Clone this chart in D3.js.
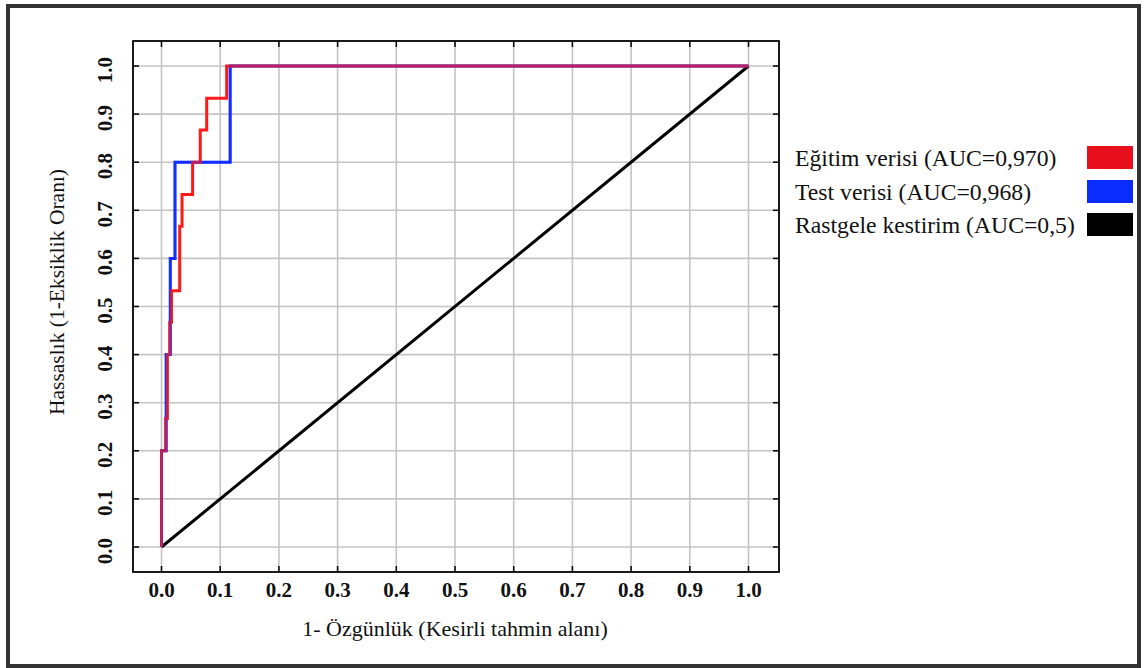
<!DOCTYPE html>
<html>
<head>
<meta charset="utf-8">
<script src="https://cdn.jsdelivr.net/npm/d3@7"></script>
<style>
  html, body { margin: 0; padding: 0; background: #fff; }
  svg { display: block; }
  text { font-family: "Liberation Serif", "Times New Roman", serif; fill: #111; }
</style>
</head>
<body>
<svg id="chart" width="1146" height="668"></svg>
<script>
// ---- data ----
const tickValues = [0, 0.1, 0.2, 0.3, 0.4, 0.5, 0.6, 0.7, 0.8, 0.9, 1.0];
const tickLabels = ["0.0","0.1","0.2","0.3","0.4","0.5","0.6","0.7","0.8","0.9","1.0"];

// Training ROC (FPR, TPR)
const trainFPR = [0, 0, 0.007, 0.007, 0.010, 0.010, 0.014, 0.014, 0.017, 0.017, 0.031, 0.031, 0.035, 0.035, 0.053, 0.053, 0.066, 0.066, 0.077, 0.077, 0.111, 0.111, 1.0];
const trainTPR = [0, 0.2, 0.2, 0.267, 0.267, 0.4, 0.4, 0.467, 0.467, 0.533, 0.533, 0.667, 0.667, 0.733, 0.733, 0.8, 0.8, 0.867, 0.867, 0.933, 0.933, 1.0, 1.0];

// Test ROC
const testFPR = [0, 0, 0.008, 0.008, 0.015, 0.015, 0.023, 0.023, 0.117, 0.117, 1.0];
const testTPR = [0, 0.2, 0.2, 0.4, 0.4, 0.6, 0.6, 0.8, 0.8, 1.0, 1.0];

// Random classifier
const randFPR = [0, 1];
const randTPR = [0, 1];

const legendLabels = ["Eğitim verisi (AUC=0,970)", "Test verisi (AUC=0,968)", "Rastgele kestirim (AUC=0,5)"];
const seriesColors = ["#ff1a1a", "#1430ff", "#000000"];
const legendColors = ["#e8101c", "#0a2cff", "#000000"];

const xTitle = "1- Özgünlük (Kesirli tahmin alanı)";
const yTitle = "Hassaslık (1-Eksiklik Oranı)";

// ---- layout ----
const svg = d3.select("#chart");
const frame = { left: 133, right: 779, top: 41, bottom: 572 };
const x = d3.scaleLinear().domain([0, 1]).range([161.5, 748.5]);
const y = d3.scaleLinear().domain([0, 1]).range([547, 66]);

// outer border
svg.append("rect")
  .attr("x", 8).attr("y", 6).attr("width", 1131).attr("height", 660)
  .attr("fill", "#fff").attr("stroke", "#333").attr("stroke-width", 4);

// grid
const g = svg.append("g");
g.selectAll("line.vg").data(tickValues).enter().append("line")
  .attr("x1", d => x(d)).attr("x2", d => x(d))
  .attr("y1", frame.top).attr("y2", frame.bottom)
  .attr("stroke", "#c4c4c4").attr("stroke-width", 1.6);
g.selectAll("line.hg").data(tickValues).enter().append("line")
  .attr("y1", d => y(d)).attr("y2", d => y(d))
  .attr("x1", frame.left).attr("x2", frame.right)
  .attr("stroke", "#c4c4c4").attr("stroke-width", 1.6);

// inward ticks on all sides
const tl = 6;
g.selectAll("line.tb").data(tickValues).enter().append("line")
  .attr("x1", d => x(d)).attr("x2", d => x(d))
  .attr("y1", frame.bottom).attr("y2", frame.bottom - tl)
  .attr("stroke", "#000").attr("stroke-width", 1.5);
g.selectAll("line.tt").data(tickValues).enter().append("line")
  .attr("x1", d => x(d)).attr("x2", d => x(d))
  .attr("y1", frame.top).attr("y2", frame.top + tl)
  .attr("stroke", "#000").attr("stroke-width", 1.5);
g.selectAll("line.tlft").data(tickValues).enter().append("line")
  .attr("y1", d => y(d)).attr("y2", d => y(d))
  .attr("x1", frame.left).attr("x2", frame.left + tl)
  .attr("stroke", "#000").attr("stroke-width", 1.5);
g.selectAll("line.trgt").data(tickValues).enter().append("line")
  .attr("y1", d => y(d)).attr("y2", d => y(d))
  .attr("x1", frame.right).attr("x2", frame.right - tl)
  .attr("stroke", "#000").attr("stroke-width", 1.5);

// curves
const line = d3.line().x(d => x(d[0])).y(d => y(d[1]));
const pts = (f, t) => f.map((v, i) => [v, t[i]]);
const layers = [
  { data: pts(randFPR, randTPR), color: seriesColors[2], op: 1 },
  { data: pts(testFPR, testTPR), color: seriesColors[1], op: 1 },
  { data: pts(trainFPR, trainTPR), color: seriesColors[0], op: 1 },
  // translucent re-draw of the test curve: tints overlaps purple
  { data: pts(testFPR, testTPR), color: seriesColors[1], op: 0.3 }
];
layers.forEach(s => {
  svg.append("path")
    .datum(s.data)
    .attr("d", line)
    .attr("fill", "none")
    .attr("stroke", s.color)
    .attr("stroke-opacity", s.op)
    .attr("stroke-width", 3)
    .attr("stroke-linejoin", "miter");
});

// frame
svg.append("rect")
  .attr("x", frame.left).attr("y", frame.top)
  .attr("width", frame.right - frame.left).attr("height", frame.bottom - frame.top)
  .attr("fill", "none").attr("stroke", "#000").attr("stroke-width", 1.8);

// x tick labels
svg.selectAll("text.xt").data(tickValues).enter().append("text")
  .attr("x", d => x(d)).attr("y", 597)
  .attr("text-anchor", "middle")
  .attr("font-size", 21).attr("font-weight", "bold")
  .text((d, i) => tickLabels[i]);

// y tick labels (rotated)
svg.selectAll("text.yt").data(tickValues).enter().append("text")
  .attr("transform", d => `translate(112,${y(d) + 4}) rotate(-90)`)
  .attr("text-anchor", "middle")
  .attr("font-size", 21).attr("font-weight", "bold")
  .text((d, i) => tickLabels[i]);

// axis titles
svg.append("text")
  .attr("x", 455).attr("y", 636)
  .attr("text-anchor", "middle")
  .attr("font-size", 22)
  .text(xTitle);

svg.append("text")
  .attr("transform", "translate(64,292) rotate(-90)")
  .attr("text-anchor", "middle")
  .attr("font-size", 21.5)
  .text(yTitle);

// legend
const legY = [158, 192, 225];
legendLabels.forEach((lab, i) => {
  svg.append("text")
    .attr("x", 795).attr("y", legY[i] + 8)
    .attr("font-size", 23.7)
    .text(lab);
  svg.append("rect")
    .attr("x", 1087).attr("y", legY[i] - 12)
    .attr("width", 46).attr("height", 23)
    .attr("fill", legendColors[i]);
});
</script>
</body>
</html>
